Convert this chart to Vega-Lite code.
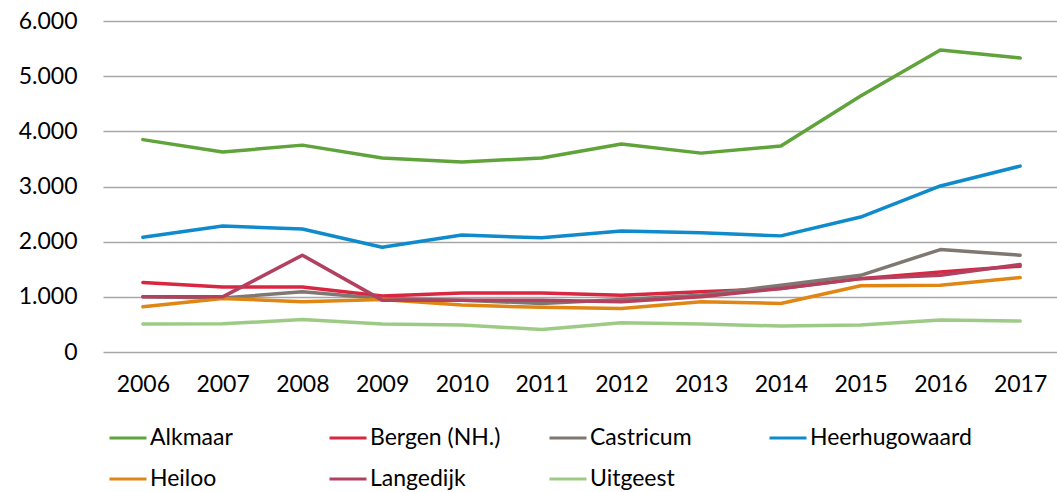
{
  "$schema": "https://vega.github.io/schema/vega-lite/v6.json",
  "autosize": {"type": "none"},
  "padding": {"left": 103, "top": 21, "right": 0, "bottom": 140},
  "width": 957,
  "height": 331,
  "background": "white",
  "config": {
    "font": "Lato",
    "view": {"stroke": null}
  },
  "datasets": {
    "d": [
      {"gemeente": "Alkmaar", "jaar": "2006", "waarde": 3850},
      {"gemeente": "Alkmaar", "jaar": "2007", "waarde": 3625},
      {"gemeente": "Alkmaar", "jaar": "2008", "waarde": 3750},
      {"gemeente": "Alkmaar", "jaar": "2009", "waarde": 3515},
      {"gemeente": "Alkmaar", "jaar": "2010", "waarde": 3445},
      {"gemeente": "Alkmaar", "jaar": "2011", "waarde": 3515},
      {"gemeente": "Alkmaar", "jaar": "2012", "waarde": 3770},
      {"gemeente": "Alkmaar", "jaar": "2013", "waarde": 3605},
      {"gemeente": "Alkmaar", "jaar": "2014", "waarde": 3735},
      {"gemeente": "Alkmaar", "jaar": "2015", "waarde": 4640},
      {"gemeente": "Alkmaar", "jaar": "2016", "waarde": 5475},
      {"gemeente": "Alkmaar", "jaar": "2017", "waarde": 5330},
      {"gemeente": "Bergen (NH.)", "jaar": "2006", "waarde": 1260},
      {"gemeente": "Bergen (NH.)", "jaar": "2007", "waarde": 1180},
      {"gemeente": "Bergen (NH.)", "jaar": "2008", "waarde": 1180},
      {"gemeente": "Bergen (NH.)", "jaar": "2009", "waarde": 1015},
      {"gemeente": "Bergen (NH.)", "jaar": "2010", "waarde": 1070},
      {"gemeente": "Bergen (NH.)", "jaar": "2011", "waarde": 1070},
      {"gemeente": "Bergen (NH.)", "jaar": "2012", "waarde": 1030},
      {"gemeente": "Bergen (NH.)", "jaar": "2013", "waarde": 1090},
      {"gemeente": "Bergen (NH.)", "jaar": "2014", "waarde": 1150},
      {"gemeente": "Bergen (NH.)", "jaar": "2015", "waarde": 1330},
      {"gemeente": "Bergen (NH.)", "jaar": "2016", "waarde": 1450},
      {"gemeente": "Bergen (NH.)", "jaar": "2017", "waarde": 1555},
      {"gemeente": "Castricum", "jaar": "2006", "waarde": 1000},
      {"gemeente": "Castricum", "jaar": "2007", "waarde": 980},
      {"gemeente": "Castricum", "jaar": "2008", "waarde": 1090},
      {"gemeente": "Castricum", "jaar": "2009", "waarde": 970},
      {"gemeente": "Castricum", "jaar": "2010", "waarde": 940},
      {"gemeente": "Castricum", "jaar": "2011", "waarde": 880},
      {"gemeente": "Castricum", "jaar": "2012", "waarde": 950},
      {"gemeente": "Castricum", "jaar": "2013", "waarde": 1030},
      {"gemeente": "Castricum", "jaar": "2014", "waarde": 1210},
      {"gemeente": "Castricum", "jaar": "2015", "waarde": 1390},
      {"gemeente": "Castricum", "jaar": "2016", "waarde": 1857},
      {"gemeente": "Castricum", "jaar": "2017", "waarde": 1755},
      {"gemeente": "Heerhugowaard", "jaar": "2006", "waarde": 2080},
      {"gemeente": "Heerhugowaard", "jaar": "2007", "waarde": 2284},
      {"gemeente": "Heerhugowaard", "jaar": "2008", "waarde": 2230},
      {"gemeente": "Heerhugowaard", "jaar": "2009", "waarde": 1900},
      {"gemeente": "Heerhugowaard", "jaar": "2010", "waarde": 2120},
      {"gemeente": "Heerhugowaard", "jaar": "2011", "waarde": 2070},
      {"gemeente": "Heerhugowaard", "jaar": "2012", "waarde": 2195},
      {"gemeente": "Heerhugowaard", "jaar": "2013", "waarde": 2160},
      {"gemeente": "Heerhugowaard", "jaar": "2014", "waarde": 2105},
      {"gemeente": "Heerhugowaard", "jaar": "2015", "waarde": 2447},
      {"gemeente": "Heerhugowaard", "jaar": "2016", "waarde": 3010},
      {"gemeente": "Heerhugowaard", "jaar": "2017", "waarde": 3370},
      {"gemeente": "Heiloo", "jaar": "2006", "waarde": 820},
      {"gemeente": "Heiloo", "jaar": "2007", "waarde": 970},
      {"gemeente": "Heiloo", "jaar": "2008", "waarde": 910},
      {"gemeente": "Heiloo", "jaar": "2009", "waarde": 950},
      {"gemeente": "Heiloo", "jaar": "2010", "waarde": 850},
      {"gemeente": "Heiloo", "jaar": "2011", "waarde": 810},
      {"gemeente": "Heiloo", "jaar": "2012", "waarde": 790},
      {"gemeente": "Heiloo", "jaar": "2013", "waarde": 910},
      {"gemeente": "Heiloo", "jaar": "2014", "waarde": 880},
      {"gemeente": "Heiloo", "jaar": "2015", "waarde": 1200},
      {"gemeente": "Heiloo", "jaar": "2016", "waarde": 1210},
      {"gemeente": "Heiloo", "jaar": "2017", "waarde": 1350},
      {"gemeente": "Langedijk", "jaar": "2006", "waarde": 1000},
      {"gemeente": "Langedijk", "jaar": "2007", "waarde": 1000},
      {"gemeente": "Langedijk", "jaar": "2008", "waarde": 1755},
      {"gemeente": "Langedijk", "jaar": "2009", "waarde": 940},
      {"gemeente": "Langedijk", "jaar": "2010", "waarde": 940},
      {"gemeente": "Langedijk", "jaar": "2011", "waarde": 940},
      {"gemeente": "Langedijk", "jaar": "2012", "waarde": 910},
      {"gemeente": "Langedijk", "jaar": "2013", "waarde": 1000},
      {"gemeente": "Langedijk", "jaar": "2014", "waarde": 1150},
      {"gemeente": "Langedijk", "jaar": "2015", "waarde": 1330},
      {"gemeente": "Langedijk", "jaar": "2016", "waarde": 1390},
      {"gemeente": "Langedijk", "jaar": "2017", "waarde": 1585},
      {"gemeente": "Uitgeest", "jaar": "2006", "waarde": 506},
      {"gemeente": "Uitgeest", "jaar": "2007", "waarde": 510},
      {"gemeente": "Uitgeest", "jaar": "2008", "waarde": 590},
      {"gemeente": "Uitgeest", "jaar": "2009", "waarde": 506},
      {"gemeente": "Uitgeest", "jaar": "2010", "waarde": 490},
      {"gemeente": "Uitgeest", "jaar": "2011", "waarde": 410},
      {"gemeente": "Uitgeest", "jaar": "2012", "waarde": 530},
      {"gemeente": "Uitgeest", "jaar": "2013", "waarde": 506},
      {"gemeente": "Uitgeest", "jaar": "2014", "waarde": 470},
      {"gemeente": "Uitgeest", "jaar": "2015", "waarde": 490},
      {"gemeente": "Uitgeest", "jaar": "2016", "waarde": 580},
      {"gemeente": "Uitgeest", "jaar": "2017", "waarde": 560}
    ]
  },
  "data": {"name": "d"},
  "mark": {"type": "line", "strokeWidth": 3.5, "strokeJoin": "round", "strokeCap": "round"},
  "encoding": {
    "x": {
      "field": "jaar", "type": "ordinal", "title": null,
      "scale": {"type": "point", "padding": 0.5},
      "axis": {"labelAngle": 0, "labelFontSize": 23, "labelColor": "#000000", "labelPadding": 21, "ticks": false, "domain": false, "grid": false}
    },
    "y": {
      "field": "waarde", "type": "quantitative", "title": null,
      "scale": {"domain": [0, 6000], "nice": false},
      "axis": {"values": [0, 1000, 2000, 3000, 4000, 5000, 6000], "labelExpr": "replace(format(datum.value, ','), ',', '.')", "labelFontSize": 23, "labelColor": "#000000", "labelPadding": 26, "ticks": false, "domain": false, "grid": true, "gridColor": "#a6a6a6", "gridWidth": 1.3}
    },
    "color": {
      "field": "gemeente", "type": "nominal", "title": null,
      "scale": {
        "domain": ["Alkmaar", "Bergen (NH.)", "Castricum", "Heerhugowaard", "Heiloo", "Langedijk", "Uitgeest"],
        "range": ["#5fa33a", "#d92641", "#7f7772", "#0f8bcc", "#e08614", "#b2405f", "#9dcb86"]
      },
      "legend": {
        "orient": "none", "legendX": 5, "legendY": 397, "direction": "horizontal", "columns": 4,
        "gridAlign": "all", "symbolType": "stroke", "symbolSize": 1369, "symbolStrokeWidth": 3,
        "labelFontSize": 23, "labelColor": "#000000", "labelOffset": 2, "columnPadding": 11, "rowPadding": 9, "labelLimit": 300
      }
    }
  }
}
